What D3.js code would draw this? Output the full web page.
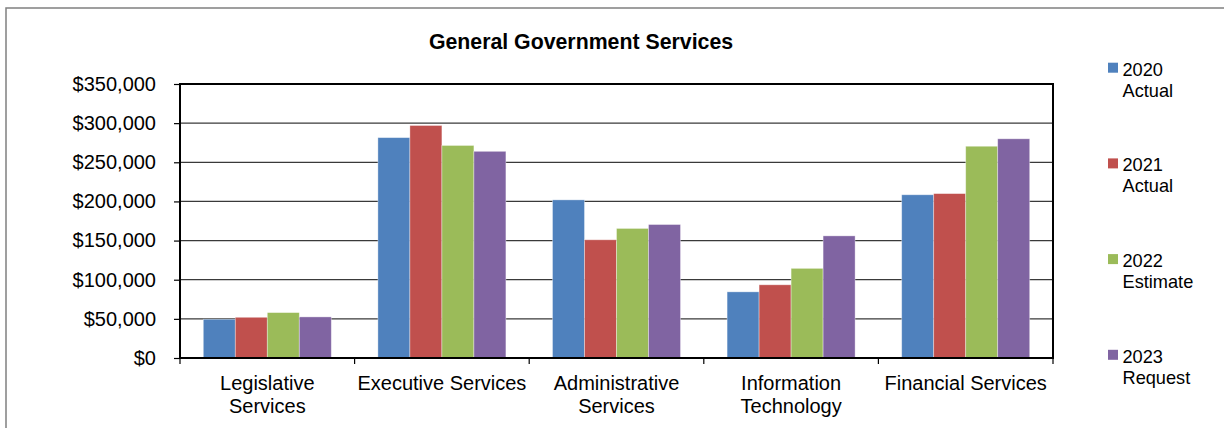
<!DOCTYPE html>
<html>
<head>
<meta charset="utf-8">
<script src="https://cdn.jsdelivr.net/npm/d3@7"></script>
<style>
  html, body { margin: 0; padding: 0; background: #fff; }
  svg { display: block; font-family: "Liberation Sans", Arial, sans-serif; }
</style>
</head>
<body>
<svg id="chart" width="1224" height="428"></svg>
<script>
// Departments along the x axis (each may wrap to two lines)
const categories = [
  ["Legislative", "Services"],
  ["Executive Services"],
  ["Administrative", "Services"],
  ["Information", "Technology"],
  ["Financial Services"]
];
const categoryKeys = categories.map(c => c.join(" "));

// Budget series
const seriesNames = [["2020", "Actual"], ["2021", "Actual"], ["2022", "Estimate"], ["2023", "Request"]];
const seriesColors = ["#4F81BD", "#C0504D", "#9BBB59", "#8064A2"];

const values2020 = [49500, 281500, 202000, 84500, 208500];
const values2021 = [52000, 297000, 151000, 93500, 210000];
const values2022 = [58000, 271500, 165500, 114500, 270500];
const values2023 = [52500, 264000, 170500, 156000, 280000];
const seriesValues = [values2020, values2021, values2022, values2023];

const yTicks = [0, 50000, 100000, 150000, 200000, 250000, 300000, 350000];

const svg = d3.select("#chart");

// Outer chart frame
svg.append("rect")
  .attr("x", 6).attr("y", 8)
  .attr("width", 1240).attr("height", 440)
  .attr("fill", "#fff")
  .attr("stroke", "#808080")
  .attr("stroke-width", 1.5);

const plot = { left: 180, top: 84, right: 1053, bottom: 358 };

const x = d3.scaleBand()
  .domain(categoryKeys)
  .range([plot.left, plot.right])
  .paddingInner(0).paddingOuter(0);

const xInner = d3.scaleBand()
  .domain(d3.range(seriesNames.length))
  .range([0, x.bandwidth()])
  .paddingInner(0)
  .paddingOuter(0.728);

const y = d3.scaleLinear()
  .domain([0, 350000])
  .range([plot.bottom, plot.top]);

// Title
svg.append("text")
  .attr("x", 581).attr("y", 49)
  .attr("text-anchor", "middle")
  .attr("font-size", 21.3)
  .attr("font-weight", "bold")
  .attr("fill", "#000")
  .text("General Government Services");

// Horizontal gridlines
svg.append("g")
  .selectAll("line")
  .data(yTicks.slice(1))
  .join("line")
  .attr("x1", plot.left).attr("x2", plot.right)
  .attr("y1", d => y(d)).attr("y2", d => y(d))
  .attr("stroke", "#3a3a3a")
  .attr("stroke-width", 1.2);

// Bars
const groups = svg.append("g")
  .selectAll("g")
  .data(seriesValues)
  .join("g")
  .attr("fill", (d, i) => seriesColors[i]);

groups.each(function(vals, si) {
  d3.select(this).selectAll("rect")
    .data(vals)
    .join("rect")
    .attr("x", (v, ci) => x(categoryKeys[ci]) + xInner(si))
    .attr("width", xInner.bandwidth())
    .attr("y", v => y(v))
    .attr("height", v => y(0) - y(v))
    .attr("stroke", "rgba(255,255,255,0.45)")
    .attr("stroke-width", 0.8);
});

// Y axis
const yAxis = d3.axisLeft(y)
  .tickValues(yTicks)
  .tickSize(6)
  .tickPadding(18)
  .tickFormat(d => "$" + d3.format(",")(d));

const yg = svg.append("g")
  .attr("transform", `translate(${plot.left},0)`)
  .call(yAxis);
yg.select(".domain").remove();
yg.selectAll(".tick line").attr("stroke", "#000").attr("stroke-width", 1.2);
yg.selectAll(".tick text")
  .attr("font-size", 20)
  .attr("font-family", "Liberation Sans, Arial, sans-serif")
  .attr("fill", "#000");

// X axis ticks at category boundaries
const boundaries = categoryKeys.map(k => x(k)).concat([plot.right]);
svg.append("g")
  .selectAll("line")
  .data(boundaries)
  .join("line")
  .attr("x1", d => d).attr("x2", d => d)
  .attr("y1", plot.bottom).attr("y2", plot.bottom + 6)
  .attr("stroke", "#000")
  .attr("stroke-width", 1.2);

// Category labels
const xLabels = svg.append("g")
  .selectAll("text")
  .data(categories)
  .join("text")
  .attr("text-anchor", "middle")
  .attr("font-size", 20)
  .attr("fill", "#000")
  .attr("transform", (d, i) => `translate(${x(categoryKeys[i]) + x.bandwidth() / 2},390)`);
xLabels.selectAll("tspan")
  .data(d => d)
  .join("tspan")
  .attr("x", 0)
  .attr("dy", (d, i) => i === 0 ? 0 : 23)
  .text(d => d);

// Plot area border
svg.append("rect")
  .attr("x", plot.left).attr("y", plot.top)
  .attr("width", plot.right - plot.left)
  .attr("height", plot.bottom - plot.top)
  .attr("fill", "none")
  .attr("stroke", "#000")
  .attr("stroke-width", 2);

// Legend
const legend = svg.append("g")
  .selectAll("g")
  .data(seriesNames)
  .join("g")
  .attr("transform", (d, i) => `translate(1108,${75.7 + i * 95.7})`);
legend.append("rect")
  .attr("x", 0).attr("y", -13)
  .attr("width", 10).attr("height", 10)
  .attr("fill", (d, i) => seriesColors[i]);
const legendText = legend.append("text")
  .attr("font-size", 18.2)
  .attr("fill", "#000");
legendText.selectAll("tspan")
  .data(d => d)
  .join("tspan")
  .attr("x", 14.5)
  .attr("dy", (d, i) => i === 0 ? 0 : 21)
  .text(d => d);
</script>
</body>
</html>
